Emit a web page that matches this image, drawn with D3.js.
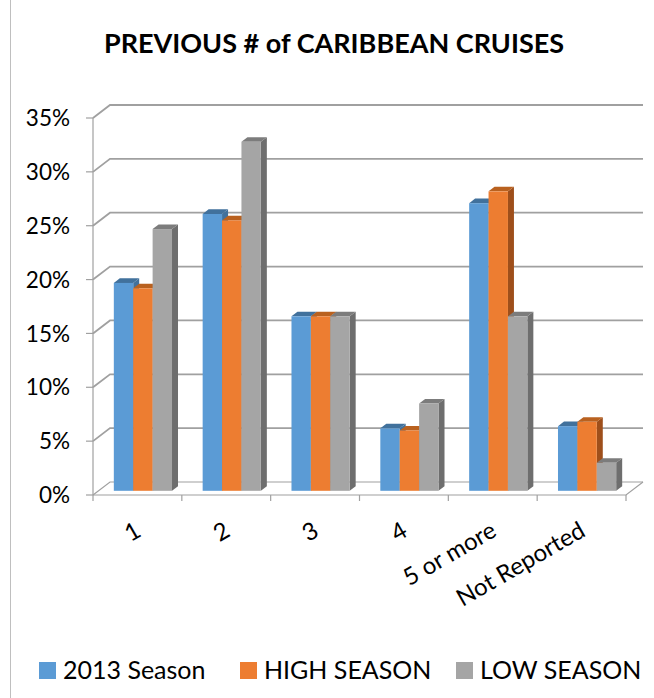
<!DOCTYPE html>
<html><head><meta charset="utf-8">
<script src="https://cdn.jsdelivr.net/npm/d3@7"></script>
<style>body{margin:0;background:#fff}svg{display:block}text{font-family:Lato,"Open Sans",sans-serif;fill:#000}</style>
</head><body><svg id="c" width="654" height="698"></svg>
<script>
const categories = ["1","2","3","4","5 or more","Not Reported"];
const seriesNames = ["2013 Season","HIGH SEASON","LOW SEASON"];
const season2013 = [19.3,25.7,16.2,5.8,26.7,6.0];
const highSeason = [18.8,25.1,16.2,5.6,27.8,6.4];
const lowSeason  = [24.3,32.4,16.2,8.1,16.2,2.6];
const yTicks = [0,5,10,15,20,25,30,35];
const title = "PREVIOUS # of CARIBBEAN CRUISES";

const series = [season2013, highSeason, lowSeason];
const colors = [
  {front:"#5B9BD5", top:"#41719C", side:"#41719C"},
  {front:"#ED7D31", top:"#B9611F", side:"#9E4F1B"},
  {front:"#A5A5A5", top:"#7C7C7C", side:"#6E6E6E"}
];

const svg = d3.select("#c");
const x0 = d3.scaleBand().domain(categories).range([93,626]);
const y = d3.scaleLinear().domain([0,35]).range([495,118]);
const D = {x:17, y:-13};
const BF = {x:5.5, y:-4.2};
const BB = {x:11.5, y:-8.8};
const x1 = d3.scaleBand().domain(d3.range(3)).range([0,x0.bandwidth()]).paddingOuter(0.79);

svg.append("line").attr("x1",10.5).attr("x2",10.5).attr("y1",0).attr("y2",698).attr("stroke","#bfbfbf");

svg.append("text").attr("x",334).attr("y",53).attr("text-anchor","middle")
  .style("font-weight","bold").style("font-size","27px").text(title);

const grid = svg.append("g");
const gc = "#a0a0a0";
const pts = a => a.map(p=>p.join(",")).join(" ");
yTicks.forEach(t=>{
  const yy = y(t);
  grid.append("polyline")
    .attr("points",pts([[x0.range()[0],yy],[x0.range()[0]+D.x,yy+D.y],[x0.range()[1]+D.x,yy+D.y]]))
    .attr("fill","none").attr("stroke",gc).attr("stroke-width",t===0?1.2:1.8);
});
grid.append("polyline")
  .attr("points",pts([[x0.range()[0],y(0)],[x0.range()[1],y(0)],[x0.range()[1]+D.x,y(0)+D.y]]))
  .attr("fill","none").attr("stroke",gc).attr("stroke-width",1.2);
grid.append("line").attr("x1",93).attr("x2",93).attr("y1",y(35)).attr("y2",y(0)).attr("stroke",gc).attr("stroke-width",1.2);
yTicks.forEach(t=>{
  grid.append("line").attr("x1",86).attr("x2",93).attr("y1",y(t)).attr("y2",y(t)).attr("stroke",gc).attr("stroke-width",1.2);
  svg.append("text").attr("x",70).attr("y",y(t)).attr("dy","0.36em").attr("text-anchor","end")
    .style("font-size","22.5px").text(t+"%");
});
const bounds = categories.map(c=>x0(c)).concat([x0.range()[1]]);
bounds.forEach(b=>{
  grid.append("line").attr("x1",b).attr("x2",b).attr("y1",y(0)).attr("y2",y(0)+6).attr("stroke",gc).attr("stroke-width",1.2);
});

const bars = svg.append("g");
categories.forEach((c,ci)=>{
  series.forEach((s,si)=>{
    const v = s[ci];
    const xl = x0(c)+x1(si)+BF.x, xr = xl + x1.bandwidth();
    const yb = y(0)+BF.y, yt = y(v)+BF.y;
    const dx = BB.x-BF.x, dy = BB.y-BF.y;
    const g = bars.append("g");
    g.append("polygon").attr("points",pts([[xr,yt],[xr+dx,yt+dy],[xr+dx,yb+dy],[xr,yb]])).attr("fill",colors[si].side);
    g.append("polygon").attr("points",pts([[xl,yt],[xl+dx,yt+dy],[xr+dx,yt+dy],[xr,yt]])).attr("fill",colors[si].top);
    g.append("rect").attr("x",xl).attr("y",yt).attr("width",xr-xl).attr("height",yb-yt).attr("fill",colors[si].front);
  });
});

categories.forEach(c=>{
  const cx = x0(c)+x0.bandwidth()/2+1;
  svg.append("text").attr("transform",`translate(${cx},${y(0)+33}) rotate(-30)`)
    .attr("text-anchor","end").attr("dy","0.35em").style("font-size","24px").text(c);
});

const legX = [39,240,456];
seriesNames.forEach((n,i)=>{
  svg.append("rect").attr("x",legX[i]).attr("y",662).attr("width",17).attr("height",17).attr("fill",colors[i].front);
  svg.append("text").attr("x",legX[i]+24).attr("y",679).style("font-size","25px").text(n);
});
</script></body></html>
